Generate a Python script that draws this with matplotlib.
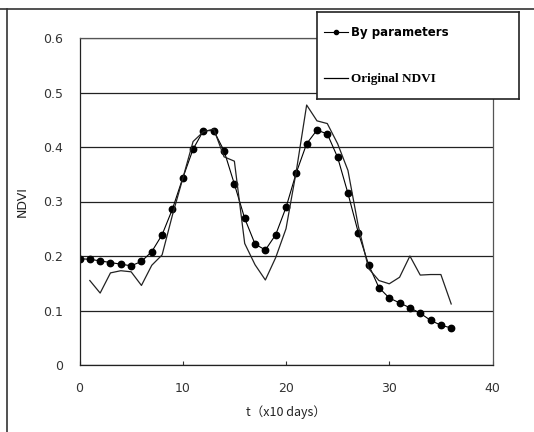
#------------------------------------------------------------------------
# NDVI : AJUSTEMENT PAR PARAMETRES vs NDVI ORIGINAL
#------------------------------------------------------------------------
import matplotlib
matplotlib.use('Agg')
import matplotlib.pyplot as plt
from matplotlib.lines import Line2D

#------------------------------------------------------------------------
# DONNEES
t_param = list(range(0, 37))
ndvi_param = [0.195, 0.194, 0.191, 0.188, 0.185, 0.182, 0.190, 0.208, 0.239,
              0.286, 0.343, 0.396, 0.430, 0.430, 0.393, 0.332, 0.269, 0.222,
              0.211, 0.239, 0.289, 0.353, 0.406, 0.431, 0.424, 0.381, 0.315,
              0.243, 0.184, 0.142, 0.123, 0.114, 0.105, 0.095, 0.082, 0.073,
              0.068]

t_orig = list(range(1, 37))
ndvi_orig = [0.155, 0.132, 0.169, 0.173, 0.171, 0.146, 0.183, 0.202, 0.275,
             0.342, 0.410, 0.428, 0.433, 0.382, 0.374, 0.223, 0.184, 0.156,
             0.197, 0.250, 0.356, 0.477, 0.448, 0.443, 0.406, 0.357, 0.255,
             0.177, 0.155, 0.149, 0.161, 0.200, 0.165, 0.166, 0.166, 0.112]

x_ticks = [0, 10, 20, 30, 40]
y_ticks = [0, 0.1, 0.2, 0.3, 0.4, 0.5, 0.6]
y_labels = ['0', '0.1', '0.2', '0.3', '0.4', '0.5', '0.6']
#------------------------------------------------------------------------

#------------------------------------------------------------------------
# FIGURE
W, H = 534, 432
fig = plt.figure(figsize=(W / 100., H / 100.), dpi=100)
fig.patch.set_facecolor('white')

# cadre exterieur (haut et gauche seulement)
fig.add_artist(Line2D([0, 1], [1 - 9. / H, 1 - 9. / H], color='#333333', lw=1.2))
fig.add_artist(Line2D([7. / W, 7. / W], [0, 1 - 9. / H], color='#333333', lw=1.2))

ax = fig.add_axes([79.5 / W, 1 - 365. / H, (492.5 - 79.5) / W, (365. - 38.) / H])
ax.set_xlim(0, 40)
ax.set_ylim(0, 0.6)
ax.set_xticks(x_ticks)
ax.set_yticks(y_ticks)
ax.set_yticklabels(y_labels)
ax.tick_params(axis='both', direction='in', labelsize=9, colors='#333333')
ax.tick_params(axis='x', length=3, pad=12)
ax.tick_params(axis='y', length=0, pad=12)
ax.grid(axis='y', color='#222222', lw=0.9)
ax.set_axisbelow(True)
for s in ax.spines.values():
  s.set_color('#555555')
  s.set_linewidth(0.9)
ax.spines['left'].set_color('#222222')
ax.spines['bottom'].set_color('#222222')

l1, = ax.plot(t_param, ndvi_param, color='black', lw=0.8, marker='o',
              markersize=4.6, markerfacecolor='black', markeredgecolor='black')
l2, = ax.plot(t_orig, ndvi_orig, color='#222222', lw=0.9)

ax.set_ylabel('NDVI', fontsize=9, labelpad=10, color='#222222')
ax.set_xlabel('t\uff08x10 days\uff09', fontsize=9, labelpad=8, color='#222222',
              family=['Noto Sans CJK JP', 'DejaVu Sans'])
#------------------------------------------------------------------------

#------------------------------------------------------------------------
# LEGENDE (boite encadree)
lax = fig.add_axes([317. / W, 1 - 99. / H, 202. / W, 87. / H])
lax.set_xticks([])
lax.set_yticks([])
lax.set_facecolor('white')
for s in lax.spines.values():
  s.set_color('#222222')
  s.set_linewidth(1.2)
h1 = Line2D([], [], color='black', lw=0.8, marker='o', markersize=3)
h2 = Line2D([], [], color='black', lw=0.9)
leg = lax.legend([h1, h2], ['By parameters', 'Original NDVI'], loc='center left',
                 frameon=False, labelspacing=2.9, handlelength=2.0,
                 handletextpad=0.25, borderaxespad=0.2, fontsize=8.5)
txts = leg.get_texts()
txts[0].set_fontweight('bold')
txts[0].set_family('DejaVu Sans')
txts[1].set_fontweight('bold')
txts[1].set_family('Liberation Serif')
txts[1].set_fontsize(9.5)
#------------------------------------------------------------------------

fig.savefig('out.png', dpi=100)
